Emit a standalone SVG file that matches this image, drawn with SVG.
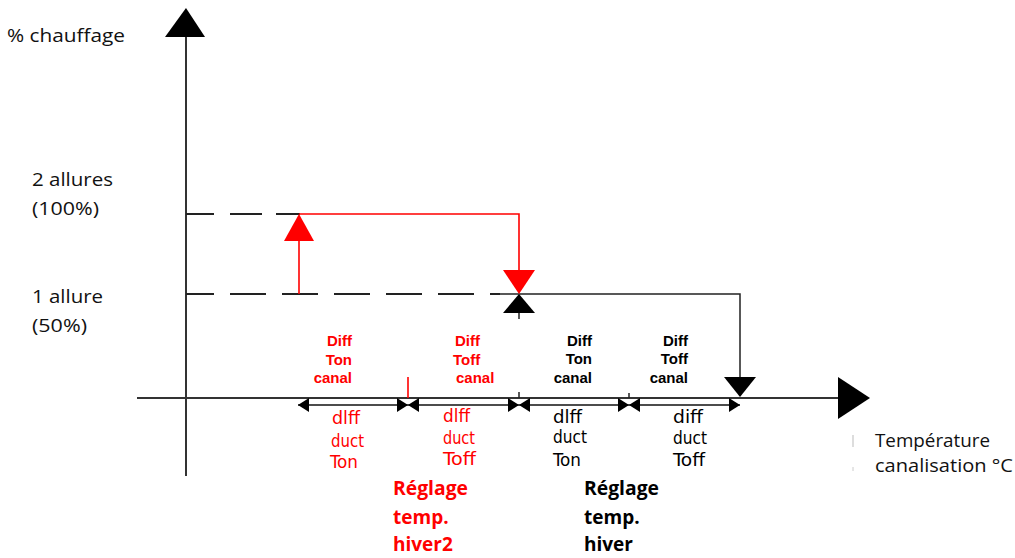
<svg xmlns="http://www.w3.org/2000/svg" width="1015" height="558" viewBox="0 0 1015 558">
  <style>
    .axis { stroke: #333; stroke-width: 2; fill: none; }
    .level { stroke: #222; stroke-width: 1.8; fill: none; stroke-dasharray: 36 16; }
    .red-line { stroke: #ff0000; stroke-width: 1.6; fill: none; }
    .blk-line { stroke: #222; stroke-width: 1.5; fill: none; }
    .dim { stroke: #111; stroke-width: 1.5; fill: none; marker-start: url(#head); marker-end: url(#head); }
    .red { fill: #ff0000; }
    .blk { fill: #000; }
    .lbl { font-family: "Open Sans", "Noto Sans", "Liberation Sans", sans-serif; font-size: 18px; fill: #111; }
    .big { font-family: "Open Sans", "Noto Sans", "Liberation Sans", sans-serif; font-size: 19px; font-weight: bold; }
    .tag { font-family: "Liberation Sans", Arial, sans-serif; font-size: 15px; font-weight: bold; }
    .px { font-family: "DejaVu Sans Condensed", "DejaVu Sans", sans-serif; font-size: 17px; }
    .tr { fill: #ff0000; }
    .tk { fill: #000; }
  </style>
  <defs>
    <marker id="head" markerUnits="userSpaceOnUse" markerWidth="12" markerHeight="15" refX="11" refY="7" orient="auto-start-reverse">
      <path d="M0,0 L11,7 L0,14 Z" fill="#000"/>
    </marker>
  </defs>

  <!-- axes -->
  <g id="axes">
    <line class="axis" x1="186" y1="34" x2="186" y2="476"/>
    <polygon class="blk" points="186,8 205,37 165,37"/>
    <line class="axis" x1="137" y1="398" x2="842" y2="398"/>
    <polygon class="blk" points="838,377 870,398 838,419"/>
  </g>

  <!-- heating levels -->
  <g id="levels">
    <path class="level" style="stroke-dasharray: 28 16 32 14 24 100" d="M186,214 H300"/>
    <path class="level" style="stroke-dashoffset: 8" d="M186,294 H500"/>
  </g>

  <!-- switching paths -->
  <g id="connectors">
    <path class="red-line" d="M299,294 V238"/>
    <path class="red-line" d="M299,214 H519 V272"/>
    <path class="blk-line" d="M500,294 H740 V380"/>
    <path class="blk-line" d="M519,310 V319"/>
    <line class="red-line" x1="408" y1="377" x2="408" y2="398"/>
    <line class="blk-line" x1="519" y1="392" x2="519" y2="398"/>
    <line class="blk-line" x1="629" y1="393" x2="629" y2="398"/>
  </g>

  <g id="heads">
    <polygon class="red" points="299,214 314,241 284,241"/>
    <polygon class="red" points="503,270 535,270 519,294"/>
    <polygon class="blk" points="519,294 535,313 503,313"/>
    <polygon class="blk" points="724,377 756,377 740,397"/>
  </g>

  <!-- differential spans -->
  <g id="spans">
    <line class="dim" x1="298" y1="405" x2="408" y2="405"/>
    <line class="dim" x1="408" y1="405" x2="519" y2="405"/>
    <line class="dim" x1="519" y1="405" x2="629" y2="405"/>
    <line class="dim" x1="629" y1="405" x2="740" y2="405"/>
  </g>

  <!-- axis and level labels -->
  <g id="axis-labels" class="lbl">
    <text x="7" y="42" textLength="118" lengthAdjust="spacingAndGlyphs">% chauffage</text>
    <text x="32" y="186" textLength="81" lengthAdjust="spacingAndGlyphs">2 allures</text>
    <text x="32" y="215" textLength="67" lengthAdjust="spacingAndGlyphs">(100%)</text>
    <text x="32" y="303" textLength="71" lengthAdjust="spacingAndGlyphs">1 allure</text>
    <text x="32" y="332" textLength="55" lengthAdjust="spacingAndGlyphs">(50%)</text>
    <text x="875" y="447" textLength="115" lengthAdjust="spacingAndGlyphs">Température</text>
    <text x="875" y="472" textLength="138" lengthAdjust="spacingAndGlyphs">canalisation °C</text>
    <line x1="853" y1="435" x2="853" y2="447" stroke="#bbb" stroke-width="1"/>
    <line x1="853" y1="467" x2="853" y2="471" stroke="#ccc" stroke-width="1"/>
  </g>

  <!-- parameter names -->
  <g id="param-red-on" class="tag tr" text-anchor="end">
    <text x="352" y="346">Diff</text>
    <text x="352" y="365">Ton</text>
    <text x="352" y="383">canal</text>
  </g>
  <g id="param-red-off" class="tag tr">
    <text x="455" y="346">Diff</text>
    <text x="453" y="365">Toff</text>
    <text x="456" y="383">canal</text>
  </g>
  <g id="param-blk-on" class="tag tk" text-anchor="end">
    <text x="592" y="346">Diff</text>
    <text x="592" y="364">Ton</text>
    <text x="592" y="383">canal</text>
  </g>
  <g id="param-blk-off" class="tag tk" text-anchor="end">
    <text x="688" y="346">Diff</text>
    <text x="688" y="364">Toff</text>
    <text x="688" y="383">canal</text>
  </g>

  <!-- display codes -->
  <g id="code-red-on" class="px tr">
    <text x="332" y="424" textLength="28" lengthAdjust="spacingAndGlyphs">dlff</text>
    <text x="331" y="447" textLength="33" lengthAdjust="spacingAndGlyphs">duct</text>
    <text x="330" y="468" textLength="28" lengthAdjust="spacingAndGlyphs">Ton</text>
  </g>
  <g id="code-red-off" class="px tr">
    <text x="443" y="422" textLength="27" lengthAdjust="spacingAndGlyphs">dlff</text>
    <text x="443" y="444" textLength="32" lengthAdjust="spacingAndGlyphs">duct</text>
    <text x="443" y="465" textLength="33" lengthAdjust="spacingAndGlyphs">Toff</text>
  </g>
  <g id="code-blk-on" class="px tk">
    <text x="553" y="423" textLength="29" lengthAdjust="spacingAndGlyphs">dlff</text>
    <text x="553" y="443" textLength="34" lengthAdjust="spacingAndGlyphs">duct</text>
    <text x="553" y="466" textLength="28" lengthAdjust="spacingAndGlyphs">Ton</text>
  </g>
  <g id="code-blk-off" class="px tk">
    <text x="673" y="423" textLength="30" lengthAdjust="spacingAndGlyphs">diff</text>
    <text x="673" y="444" textLength="34" lengthAdjust="spacingAndGlyphs">duct</text>
    <text x="673" y="466" textLength="32" lengthAdjust="spacingAndGlyphs">Toff</text>
  </g>

  <!-- setpoints -->
  <g id="setpoint-hiver2" class="big tr">
    <text x="393" y="495" textLength="75" lengthAdjust="spacingAndGlyphs">Réglage</text>
    <text x="393" y="524">temp.</text>
    <text x="393" y="551">hiver2</text>
  </g>
  <g id="setpoint-hiver" class="big tk">
    <text x="584" y="495" textLength="75" lengthAdjust="spacingAndGlyphs">Réglage</text>
    <text x="584" y="524">temp.</text>
    <text x="584" y="551">hiver</text>
  </g>
</svg>
